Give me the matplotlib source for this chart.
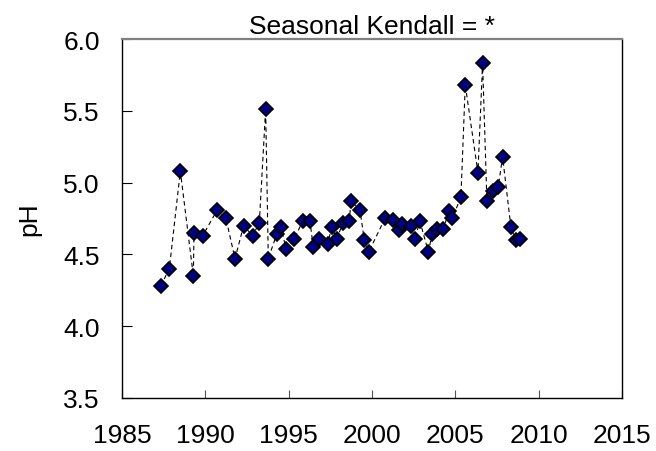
import matplotlib
matplotlib.use("Agg")
import matplotlib.pyplot as plt

plt.rcParams['font.family'] = ['Liberation Sans', 'DejaVu Sans']

years = [1987.32, 1987.84, 1988.50, 1989.28, 1989.32, 1989.84, 1990.72, 1991.24,
         1991.78, 1992.30, 1992.84, 1993.24, 1993.62, 1993.78, 1994.28, 1994.54,
         1994.84, 1995.34, 1995.84, 1996.28, 1996.48, 1996.82, 1997.34, 1997.58,
         1997.88, 1998.28, 1998.64, 1998.74, 1999.28, 1999.54, 1999.82, 2000.78,
         2001.28, 2001.62, 2001.78, 2002.32, 2002.58, 2002.88, 2003.38, 2003.62,
         2003.88, 2004.28, 2004.64, 2004.82, 2005.34, 2005.60, 2006.36, 2006.64,
         2006.90, 2007.28, 2007.58, 2007.84, 2008.34, 2008.62, 2008.88]
ph = [4.28, 4.40, 5.08, 4.35, 4.65, 4.63, 4.81, 4.75,
      4.47, 4.70, 4.63, 4.72, 5.51, 4.47, 4.64, 4.69,
      4.54, 4.61, 4.73, 4.73, 4.55, 4.61, 4.57, 4.69,
      4.61, 4.72, 4.73, 4.87, 4.81, 4.60, 4.52, 4.75,
      4.74, 4.67, 4.71, 4.70, 4.61, 4.73, 4.52, 4.64,
      4.68, 4.68, 4.80, 4.75, 4.90, 5.68, 5.07, 5.83,
      4.87, 4.94, 4.97, 5.18, 4.69, 4.60, 4.61]

xticks = [1985, 1990, 1995, 2000, 2005, 2010, 2015]
yticks = [3.5, 4.0, 4.5, 5.0, 5.5, 6.0]
subtitle = "Seasonal Kendall = *"
ylabel = "pH"

fig = plt.figure(figsize=(6.56, 4.52), dpi=100)
ax = fig.add_axes([0.186, 0.1173, 0.762, 0.7942])

ax.plot(years, ph, linestyle=(0, (4, 3)), color='black', linewidth=0.8, zorder=2)
ax.plot(years, ph, linestyle='none', marker='D', markersize=7.4,
        markerfacecolor='#000080', markeredgecolor='black', markeredgewidth=1.2, zorder=3)

ax.set_xlim(1985, 2015)
ax.set_ylim(3.5, 6.0)
ax.set_xticks(xticks)
ax.set_xticklabels([str(t) for t in xticks])
ax.set_yticks(yticks)
ax.set_yticklabels([f"{t:.1f}" for t in yticks])

ax.tick_params(axis='x', direction='in', length=6, width=0.8, pad=18, labelsize=19, color='#555555')
ax.tick_params(axis='y', direction='in', length=7, width=0.8, pad=16, labelsize=19)

for s in ['left', 'bottom', 'right']:
    ax.spines[s].set_color('black')
    ax.spines[s].set_linewidth(1.0)
ax.spines['top'].set_color('#808080')
ax.spines['top'].set_linewidth(1.6)

ax.set_ylabel(ylabel, fontsize=19, labelpad=16)
ax.set_title(subtitle, fontsize=19, pad=4)

fig.savefig("out.png", dpi=100)
